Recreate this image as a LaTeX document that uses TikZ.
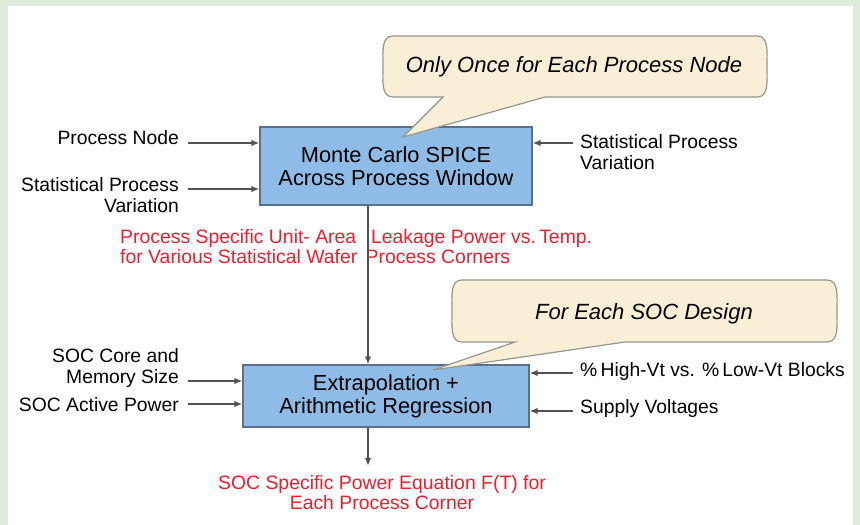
\documentclass[tikz,border=0pt]{standalone}
\usepackage{fontspec}
\setmainfont{Liberation Sans}
\usetikzlibrary{arrows.meta}

\definecolor{framegreen}{RGB}{221,236,221}
\definecolor{boxblue}{RGB}{142,188,230}
\definecolor{boxline}{RGB}{92,112,138}
\definecolor{bubblefill}{RGB}{249,239,215}
\definecolor{bubbleline}{RGB}{150,150,138}
\definecolor{linegray}{RGB}{82,82,82}
\definecolor{notered}{RGB}{236,30,44}

\begin{document}
\begin{tikzpicture}[x=1pt,y=-1pt,
	box/.style={draw=boxline,fill=boxblue,line width=1.2pt,align=center,inner sep=0pt,font=\fontsize{21.8}{23}\selectfont},
	lbl/.style={inner sep=0pt,font=\fontsize{19.3}{21}\selectfont},
	note/.style={lbl,text=notered,font=\fontsize{19.4}{20}\selectfont},
	arr/.style={draw=linegray,line width=2pt,-{Latex[length=8pt,width=6.5pt]}},
	bubble/.style={draw=bubbleline,fill=bubblefill,line width=1.2pt},
	said/.style={inner sep=0pt,font=\fontsize{22}{24}\selectfont\itshape}]
	
	\fill[framegreen] (0,0) rectangle (860,525);
	\fill[white] (8,6) rectangle (853,525);
	\useasboundingbox (0,0) rectangle (860,525);
	
	\node[box,minimum width=272pt,minimum height=78pt] (mc) at (396,166) {Monte Carlo SPICE\\Across Process Window};
	\node[box,minimum width=286pt,minimum height=62pt] (ex) at (386,396) {Extrapolation +\\Arithmetic Regression};
	
	\node[lbl,anchor=east] (pn) at (179,138) {Process Node};
	\node[lbl,anchor=east,align=right] (spvl) at (179,195.5) {Statistical Process\\Variation};
	\node[lbl,anchor=west,align=left] (spvr) at (580,152) {Statistical Process\\Variation};
	\node[lbl,anchor=east,align=right] (core) at (179,368) {SOC Core and\\Memory Size};
	\node[lbl,anchor=east] (act) at (179,405) {SOC Active Power};
	\node[lbl,anchor=west] (hv) at (580,372) {\%\,High-Vt vs. \%\,Low-Vt Blocks};
	\node[lbl,anchor=west] (sv) at (580,409) {Supply Voltages};
	
	\coordinate (in1) at (188,143);
	\coordinate (in2) at (188,189);
	\coordinate (in3) at (573,143);
	\coordinate (in4) at (188,381);
	\coordinate (in5) at (188,404);
	\coordinate (in6) at (573,373);
	\coordinate (in7) at (573,411);
	\draw[arr] (in1) -- (in1 -| mc.west);
	\draw[arr] (in2) -- (in2 -| mc.west);
	\draw[arr] (in3) -- (in3 -| mc.east);
	\draw[arr] (in4) -- (in4 -| ex.west);
	\draw[arr] (in5) -- (in5 -| ex.west);
	\draw[arr] (in6) -- (in6 -| ex.east);
	\draw[arr] (in7) -- (in7 -| ex.east);
	
	\node[note,anchor=west,align=left] (leak) at (120,246.5) {Process Specific Unit- Area\ \hspace{4pt} Leakage Power vs.\,Temp.\\for Various Statistical Wafer\hspace{3pt} Process Corners};
	\node[note,align=center] (eqn) at (382,493) {SOC Specific Power Equation F(T) for\\Each Process Corner};
	
	\coordinate (tap) at (368,0);
	\coordinate (out) at (368,466);
	\draw[arr] (mc.south -| tap) -- (ex.north -| tap);
	\draw[arr] (ex.south -| out) -- (out);
	
	\draw[bubble] (393,36) -- (757,36) .. controls (769,36) and (767,52) .. (767,66) .. controls (767,82) and (769,97) .. (757,97) -- (545,97) -- (403,137) -- (443,97) -- (393,97) .. controls (381,97) and (383,82) .. (383,66) .. controls (383,52) and (381,36) .. (393,36) -- cycle;
	\node[said] (once) at (574,67) {Only Once for Each Process Node};
	
	\draw[bubble] (462,280) -- (827,280) .. controls (839,280) and (837,296) .. (837,311) .. controls (837,326) and (839,342) .. (827,342) -- (625,342) -- (433,370) -- (515,342) -- (462,342) .. controls (450,342) and (452,326) .. (452,311) .. controls (452,296) and (450,280) .. (462,280) -- cycle;
	\node[said] (soc) at (644,314) {For Each SOC Design};
	
\end{tikzpicture}
\end{document}
